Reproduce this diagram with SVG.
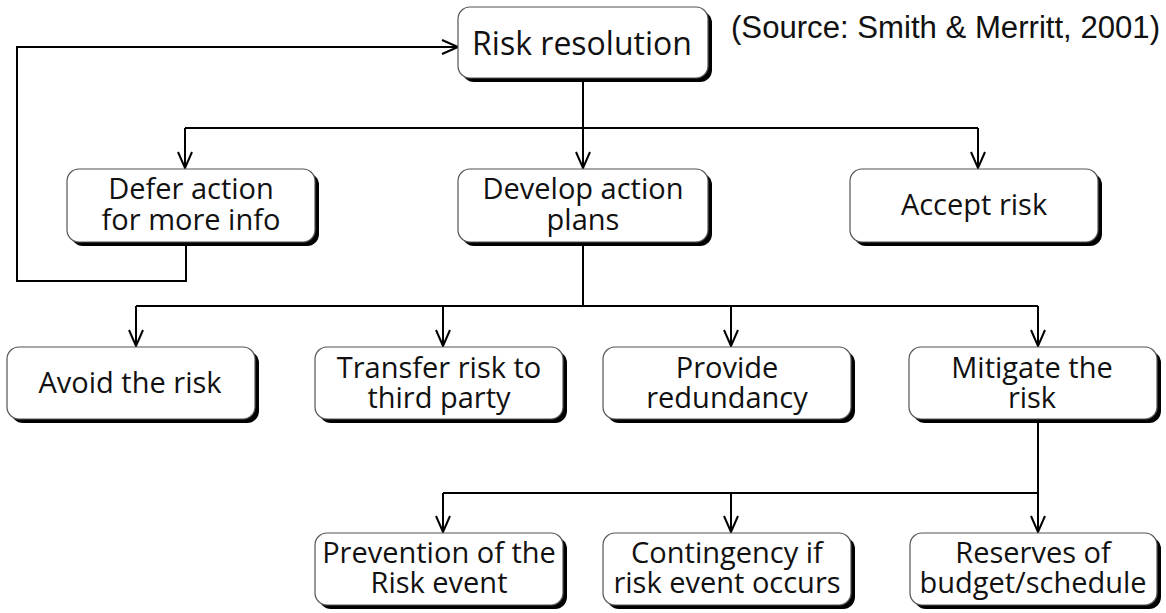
<svg xmlns="http://www.w3.org/2000/svg" width="1166" height="613" viewBox="0 0 1166 613">
  <defs>
    <style>
      .shadow { fill: #000; }
      .box { fill: #fff; stroke: #555; stroke-width: 1.2; }
      .lbl { font-family: "Open Sans", "Noto Sans", "DejaVu Sans", sans-serif; font-size: 29px; fill: #111; text-anchor: middle; }
      .big { font-size: 32px; }
      .src { font-family: "Liberation Sans", Arial, sans-serif; font-size: 31px; fill: #111; }
      .wire { fill: none; stroke: #000; stroke-width: 2; }
    </style>
    <marker id="arrow" markerUnits="userSpaceOnUse" markerWidth="20" markerHeight="20" viewBox="-18 -10 20 20" refX="0" refY="0" orient="auto">
      <path d="M-16,-7 L0,0 L-16,7" fill="none" stroke="#000" stroke-width="2"/>
    </marker>
  </defs>

  <rect width="1166" height="613" fill="#fff"/>

  <!-- connectors -->
  <g id="connectors" class="wire">
    <!-- feedback loop: defer back to resolution -->
    <path d="M186,242 V281 H17 V47 H458" marker-end="url(#arrow)"/>
    <!-- resolution to the three options -->
    <path d="M583,78 V168" marker-end="url(#arrow)"/>
    <path d="M185,128 H978"/>
    <path d="M185,128 V168" marker-end="url(#arrow)"/>
    <path d="M978,128 V168" marker-end="url(#arrow)"/>
    <!-- action plans to the four responses -->
    <path d="M583,242 V306"/>
    <path d="M136,306 H1038"/>
    <path d="M136,306 V346" marker-end="url(#arrow)"/>
    <path d="M443,306 V346" marker-end="url(#arrow)"/>
    <path d="M731,306 V346" marker-end="url(#arrow)"/>
    <path d="M1038,306 V346" marker-end="url(#arrow)"/>
    <!-- mitigation branches -->
    <path d="M1038,422 V532" marker-end="url(#arrow)"/>
    <path d="M443,493 H1038"/>
    <path d="M443,493 V532" marker-end="url(#arrow)"/>
    <path d="M731,493 V532" marker-end="url(#arrow)"/>
  </g>

  <g id="n-risk-resolution">
    <rect class="shadow" x="462" y="11" width="250" height="71" rx="12"/>
    <rect class="box" x="458" y="7" width="250" height="71" rx="12"/>
    <text class="lbl big" x="582" y="55">Risk resolution</text>
  </g>

  <g id="n-source">
    <text class="src" x="731" y="38" textLength="429" lengthAdjust="spacingAndGlyphs">(Source: Smith &amp; Merritt, 2001)</text>
  </g>

  <g id="n-defer">
    <rect class="shadow" x="71" y="173" width="248" height="73" rx="12"/>
    <rect class="box" x="67" y="169" width="248" height="73" rx="12"/>
    <text class="lbl" x="191" y="199">Defer action<tspan x="191" dy="31">for more info</tspan></text>
  </g>

  <g id="n-develop">
    <rect class="shadow" x="462" y="173" width="250" height="73" rx="12"/>
    <rect class="box" x="458" y="169" width="250" height="73" rx="12"/>
    <text class="lbl" x="583" y="199">Develop action<tspan x="583" dy="31">plans</tspan></text>
  </g>

  <g id="n-accept">
    <rect class="shadow" x="854" y="173" width="248" height="73" rx="12"/>
    <rect class="box" x="850" y="169" width="248" height="73" rx="12"/>
    <text class="lbl" x="974" y="215">Accept risk</text>
  </g>

  <g id="n-avoid">
    <rect class="shadow" x="11" y="351" width="248" height="72" rx="12"/>
    <rect class="box" x="7" y="347" width="248" height="72" rx="12"/>
    <text class="lbl" x="130" y="393">Avoid the risk</text>
  </g>

  <g id="n-transfer">
    <rect class="shadow" x="319" y="351" width="248" height="72" rx="12"/>
    <rect class="box" x="315" y="347" width="248" height="72" rx="12"/>
    <text class="lbl" x="439" y="378">Transfer risk to<tspan x="439" dy="30">third party</tspan></text>
  </g>

  <g id="n-redundancy">
    <rect class="shadow" x="607" y="351" width="248" height="72" rx="12"/>
    <rect class="box" x="603" y="347" width="248" height="72" rx="12"/>
    <text class="lbl" x="727" y="378">Provide<tspan x="727" dy="30">redundancy</tspan></text>
  </g>

  <g id="n-mitigate">
    <rect class="shadow" x="913" y="351" width="248" height="72" rx="12"/>
    <rect class="box" x="909" y="347" width="248" height="72" rx="12"/>
    <text class="lbl" x="1032" y="378">Mitigate the<tspan x="1032" dy="30">risk</tspan></text>
  </g>

  <g id="n-prevention">
    <rect class="shadow" x="319" y="537" width="248" height="72" rx="12"/>
    <rect class="box" x="315" y="533" width="248" height="72" rx="12"/>
    <text class="lbl" x="439" y="563">Prevention of the<tspan x="439" dy="30">Risk event</tspan></text>
  </g>

  <g id="n-contingency">
    <rect class="shadow" x="607" y="537" width="248" height="72" rx="12"/>
    <rect class="box" x="603" y="533" width="248" height="72" rx="12"/>
    <text class="lbl" x="727" y="563">Contingency if<tspan x="727" dy="30">risk event occurs</tspan></text>
  </g>

  <g id="n-reserves">
    <rect class="shadow" x="914" y="537" width="247" height="72" rx="12"/>
    <rect class="box" x="910" y="533" width="247" height="72" rx="12"/>
    <text class="lbl" x="1033" y="563">Reserves of<tspan x="1033" dy="30">budget/schedule</tspan></text>
  </g>
</svg>
